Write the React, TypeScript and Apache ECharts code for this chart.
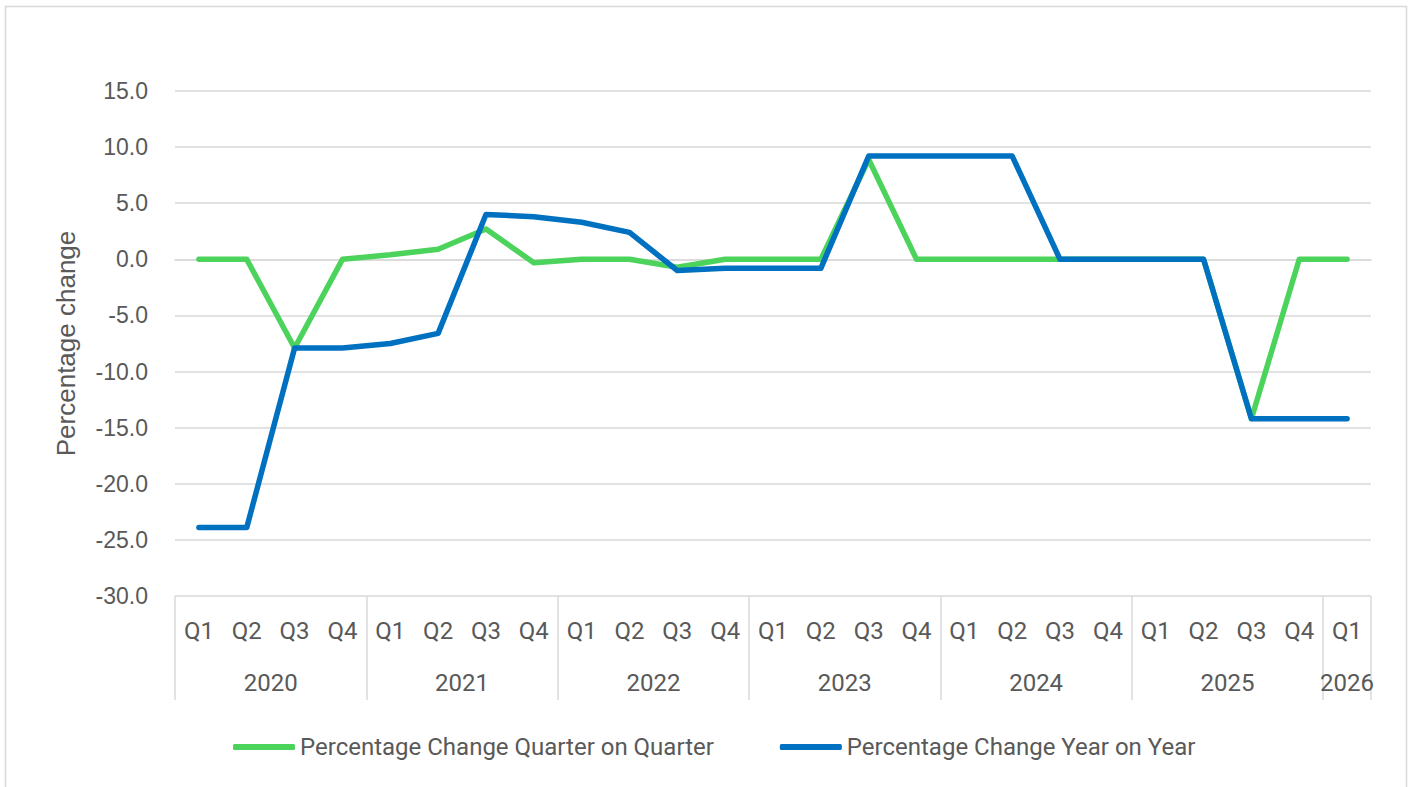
import React, { useEffect, useRef } from "react";
import * as echarts from "echarts";

const years = ["2020", "2021", "2022", "2023", "2024", "2025", "2026"];
const quartersPerYear = [4, 4, 4, 4, 4, 4, 1];
const quarterNames = ["Q1", "Q2", "Q3", "Q4"];

const qoqValues = [
  0, 0, -7.9, 0,
  0.4, 0.9, 2.7, -0.3,
  0, 0, -0.7, 0,
  0, 0, 8.9, 0,
  0, 0, 0, 0,
  0, 0, -14.2, 0,
  0,
];
const yoyValues = [
  -23.9, -23.9, -7.9, -7.9,
  -7.5, -6.6, 4.0, 3.8,
  3.3, 2.4, -1.0, -0.8,
  -0.8, -0.8, 9.2, 9.2,
  9.2, 9.2, 0, 0,
  0, 0, -14.2, -14.2,
  -14.2,
];

const seriesNames = [
  "Percentage Change Quarter on Quarter",
  "Percentage Change Year on Year",
];
const yAxisName = "Percentage change";

const GREEN = "#4CD35B";
const BLUE = "#0070C0";
const GRID = "#D9D9D9";
const TEXT = "#595959";
const FONT = "Roboto, 'Liberation Sans', sans-serif";
const ARIAL = "'Liberation Sans', Arial, sans-serif";

export default function App() {
  const ref = useRef<HTMLDivElement>(null);

  useEffect(() => {
    if (!ref.current) return;
    const chart = echarts.init(ref.current, undefined, { renderer: "svg" });

    const quarterCats: string[] = [];
    const yearStarts: number[] = [];
    let s = 0;
    years.forEach((y, i) => {
      yearStarts.push(s);
      for (let q = 0; q < quartersPerYear[i]; q++) {
        quarterCats.push(quarterNames[q]);
      }
      s += quartersPerYear[i];
    });
    const total = s;
    const halfPoints: string[] = new Array(total * 2 + 1).fill("");
    years.forEach((y, i) => {
      halfPoints[yearStarts[i] * 2 + quartersPerYear[i]] = y;
    });
    const tickIdx = new Set<number>(yearStarts.map((v) => v * 2));
    tickIdx.add(total * 2);

    chart.setOption({
      animation: false,
      backgroundColor: "#ffffff",
      graphic: [
        {
          type: "rect",
          shape: { x: 5.5, y: 6.5, width: 1401, height: 820 },
          style: { fill: "none", stroke: GRID, lineWidth: 1.5 },
          silent: true,
        },
      ],
      grid: { left: 175, right: 40, top: 91, bottom: 191 },
      legend: {
        left: 228,
        top: 730,
        icon: "roundRect",
        itemWidth: 62,
        itemHeight: 6,
        itemGap: 66,
        textStyle: { color: TEXT, fontSize: 24, fontFamily: FONT },
        data: seriesNames,
      },
      xAxis: [
        {
          type: "category",
          data: quarterCats,
          position: "bottom",
          boundaryGap: true,
          axisLine: { show: true, lineStyle: { color: GRID, width: 1.5 } },
          axisTick: { show: false },
          axisLabel: {
            interval: 0,
            color: TEXT,
            fontSize: 24,
            fontFamily: FONT,
            margin: 23,
          },
        },
        {
          type: "category",
          data: halfPoints,
          position: "bottom",
          boundaryGap: false,
          axisLine: { show: false },
          axisTick: {
            show: true,
            length: 104,
            interval: (idx: number) => tickIdx.has(idx),
            lineStyle: { color: GRID, width: 1.5 },
          },
          axisLabel: {
            interval: 0,
            color: TEXT,
            fontSize: 24,
            fontFamily: FONT,
            margin: 75,
          },
        },
      ],
      yAxis: {
        type: "value",
        min: -30,
        max: 15,
        interval: 5,
        name: yAxisName,
        nameLocation: "middle",
        nameGap: 96,
        nameTextStyle: { color: TEXT, fontSize: 26, fontFamily: ARIAL },
        axisLine: { show: false },
        axisTick: { show: false },
        axisLabel: {
          color: TEXT,
          fontSize: 23,
          fontFamily: ARIAL,
          margin: 27,
          formatter: (v: number) => v.toFixed(1),
        },
        splitLine: { lineStyle: { color: GRID, width: 1.5 } },
      },
      series: [
        {
          name: seriesNames[0],
          type: "line",
          xAxisIndex: 0,
          data: qoqValues,
          symbol: "none",
          color: GREEN,
          lineStyle: { color: GREEN, width: 5.5, cap: "round", join: "round" },
          itemStyle: { color: GREEN },
          z: 2,
        },
        {
          name: seriesNames[1],
          type: "line",
          xAxisIndex: 0,
          data: yoyValues,
          symbol: "none",
          color: BLUE,
          lineStyle: { color: BLUE, width: 5.5, cap: "round", join: "round" },
          itemStyle: { color: BLUE },
          z: 3,
        },
      ],
    });

    return () => chart.dispose();
  }, []);

  return (
    <div
      ref={ref}
      style={{ position: "absolute", left: 0, top: 0, width: 1411, height: 787 }}
    />
  );
}
